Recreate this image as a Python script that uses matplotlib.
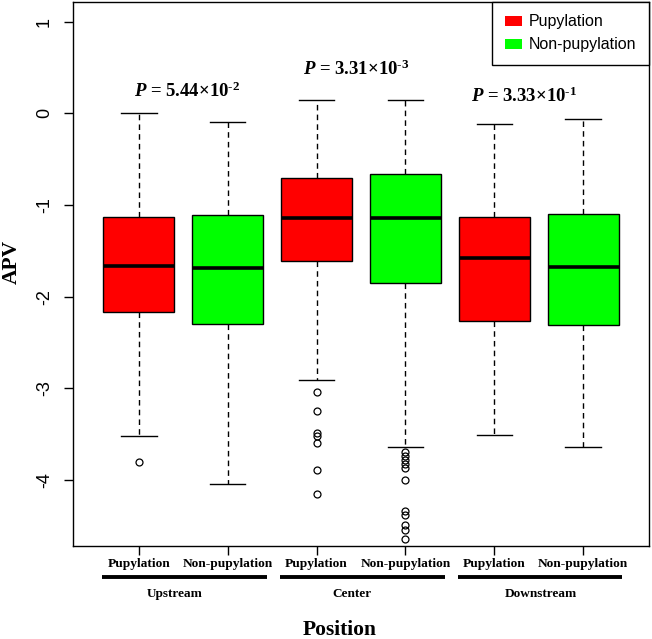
import matplotlib
matplotlib.use("Agg")
import matplotlib.pyplot as plt
from matplotlib.patches import Patch

# -----------------------------
# Data
# -----------------------------
groups = ["Upstream", "Center", "Downstream"]
box_labels = ["Pupylation", "Non-pupylation"] * 3
box_colors = ["#FF0000", "#00FF00"] * 3
positions = [1, 2, 3, 4, 5, 6]

whis_lo = [-3.52, -4.04, -2.91, -3.645, -3.51, -3.64]
q1 = [-2.17, -2.30, -1.605, -1.845, -2.26, -2.31]
medians = [-1.67, -1.69, -1.14, -1.14, -1.58, -1.68]
q3 = [-1.135, -1.11, -0.71, -0.66, -1.125, -1.10]
whis_hi = [0.0, -0.095, 0.145, 0.145, -0.115, -0.06]
outliers = [
    [-3.80],
    [],
    [-3.04, -3.25, -3.49, -3.52, -3.60, -3.89, -4.15],
    [-3.69, -3.735, -3.78, -3.82, -3.87, -4.00, -4.34, -4.38, -4.49, -4.54, -4.64],
    [],
    [],
]

p_texts = [r"$P$ = 5.44×$10^{\text{-2}}$", r"$P$ = 3.31×$10^{\text{-3}}$",
           r"$P$ = 3.33×$10^{\text{-1}}$"]
p_x = [1.54, 3.45, 5.33]
p_y = [0.18, 0.42, 0.127]

group_x = [1.40, 3.40, 5.52]
y_ticks = [1, 0, -1, -2, -3, -4]
y_ticklabels = ["1", "0", "-1", "-2", "-3", "-4"]

# -----------------------------
# Fonts
# -----------------------------
plt.rcParams["axes.unicode_minus"] = False
plt.rcParams["mathtext.fontset"] = "custom"
plt.rcParams["mathtext.rm"] = "Liberation Serif:bold"
plt.rcParams["mathtext.it"] = "Liberation Serif:italic:bold"
plt.rcParams["mathtext.bf"] = "Liberation Serif:bold"
SERIF = "Liberation Serif"
SANS = "Liberation Sans"

# -----------------------------
# Plotting
# -----------------------------
fig = plt.figure(figsize=(6.52, 6.39), dpi=100)
ax = fig.add_axes([73 / 652, (639 - 546) / 639, (649 - 73) / 652, (546 - 1.6) / 639])

stats = []
for i in range(len(positions)):
    stats.append({
        "whislo": whis_lo[i], "q1": q1[i], "med": medians[i],
        "q3": q3[i], "whishi": whis_hi[i], "fliers": outliers[i],
    })

bp = ax.bxp(stats, positions=positions, widths=0.8, capwidths=0.4,
            patch_artist=True, showfliers=True,
            boxprops=dict(edgecolor="black", linewidth=1),
            medianprops=dict(color="black", linewidth=2.6),
            whiskerprops=dict(color="black", linewidth=1, linestyle=(0, (4, 3))),
            capprops=dict(color="black", linewidth=1),
            flierprops=dict(marker="o", markerfacecolor="none",
                            markeredgecolor="black", markersize=5, markeredgewidth=0.9))
for patch, c in zip(bp["boxes"], box_colors):
    patch.set_facecolor(c)

ax.set_xlim(0.26, 6.74)
ax.set_ylim(-4.72, 1.22)

ax.set_yticks(y_ticks)
ax.set_yticklabels(y_ticklabels, rotation=90, va="center",
                   fontfamily=SANS, fontsize=13)
ax.tick_params(axis="y", length=6.5, pad=8, width=1)

ax.set_xticks(positions)
ax.set_xticklabels(box_labels, fontfamily=SERIF, fontweight="bold", fontsize=9.6)
ax.tick_params(axis="x", length=6.5, pad=2.5, width=1)

for s in ax.spines.values():
    s.set_linewidth(1)

# group underlines and names
xt = ax.get_xaxis_transform()
for g in range(3):
    a = positions[2 * g] - 0.41
    b = positions[2 * g + 1] + 0.44
    ax.plot([a, b], [-0.057, -0.057], color="black", lw=2.8,
            transform=xt, clip_on=False, solid_capstyle="butt")
    ax.text(group_x[g], -0.088, groups[g], transform=xt, ha="center", va="center",
            fontfamily=SERIF, fontweight="bold", fontsize=9.5)

# p-values
for t, x, y in zip(p_texts, p_x, p_y):
    ax.text(x, y, t, ha="center", va="baseline", fontfamily=SERIF,
            fontweight="bold", fontsize=13.5)

# axis titles
fig.text(340 / 652, 1 - 630 / 639, "Position", ha="center", va="center",
         fontfamily=SERIF, fontweight="bold", fontsize=15.5)
fig.text(12 / 652, 1 - 262 / 639, "APV", ha="center", va="center", rotation=90,
         fontfamily=SERIF, fontweight="bold", fontsize=15.5)

# legend
handles = [Patch(facecolor="#FF0000", edgecolor="none"),
           Patch(facecolor="#00FF00", edgecolor="none")]
leg = ax.legend(handles, ["Pupylation", "Non-pupylation"], loc="upper right",
                borderaxespad=0, fancybox=False, edgecolor="black", framealpha=1,
                prop={"family": SANS, "size": 11.5}, handlelength=1.1,
                handleheight=0.55, handletextpad=0.4, borderpad=0.8,
                labelspacing=0.5)
leg.get_frame().set_linewidth(1)

fig.savefig("out.png", dpi=100)
